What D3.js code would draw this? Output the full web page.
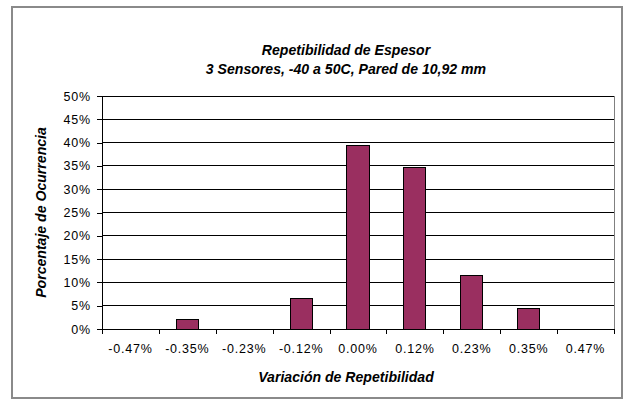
<!DOCTYPE html>
<html>
<head>
<meta charset="utf-8">
<script src="https://cdn.jsdelivr.net/npm/d3@7"></script>
<style>
  body { margin: 0; background: #fff; }
  svg { display: block; font-family: "Liberation Sans", Arial, sans-serif; }
  .tick text { font-size: 12.5px; fill: #000; letter-spacing: 0.8px; }
  .title, .x-label, .y-label { font-size: 15.5px; font-weight: bold; font-style: italic; }
</style>
</head>
<body>
<svg width="631" height="406"></svg>
<script>
// histogram values
const categories = ["-0.47%", "-0.35%", "-0.23%", "-0.12%", "0.00%", "0.12%", "0.23%", "0.35%", "0.47%"];
const percents = [0, 2.0, 0, 6.6, 39.4, 34.6, 11.4, 4.5, 0];
const yTicks = [0, 5, 10, 15, 20, 25, 30, 35, 40, 45, 50];

const margin = { top: 96, bottom: 77, right: 17, left: 102 },
    width = 631 - margin.left - margin.right,
    height = 406 - margin.top - margin.bottom;

const root = d3.select("svg");

// outer chart frame
root.append("rect")
    .attr("x", 12).attr("y", 7)
    .attr("width", 610).attr("height", 391)
    .attr("fill", "#fff")
    .attr("stroke", "#8a8a8a")
    .attr("stroke-width", 2);

const svg = root.append("g")
    .attr("transform", "translate(" + margin.left + "," + margin.top + ")");

let x = d3.scaleBand().domain(categories).range([0, width]).paddingInner(0.61).paddingOuter(0.305);
let xEdge = d3.scaleLinear().domain([0, categories.length]).range([0, width]);
let y = d3.scaleLinear().domain([0, 50]).range([height, 0]);

// gridlines
svg.selectAll(".grid")
    .data(yTicks.filter(d => d > 0))
    .enter()
    .append("line")
    .attr("x1", 0).attr("x2", width)
    .attr("y1", d => y(d)).attr("y2", d => y(d))
    .attr("stroke", "#000")
    .attr("stroke-width", 1)
    .attr("shape-rendering", "crispEdges");

// plot area right border
svg.append("line")
    .attr("x1", width).attr("x2", width)
    .attr("y1", 0).attr("y2", height)
    .attr("stroke", "#808080")
    .attr("shape-rendering", "crispEdges");

// bars
svg.selectAll(".bar")
    .data(percents)
    .enter()
    .append("rect")
    .attr("class", "bar")
    .attr("x", (d, i) => x(categories[i]))
    .attr("width", x.bandwidth())
    .attr("y", d => y(d))
    .attr("height", d => height - y(d))
    .attr("fill", "#9a2f60")
    .attr("stroke", "#000")
    .attr("stroke-width", d => d > 0 ? 1 : 0)
    .attr("shape-rendering", "crispEdges");

// axes
const yAxis = svg.append("g")
    .call(d3.axisLeft(y).tickValues(yTicks).tickSize(5).tickPadding(6)
        .tickFormat(d => d + "%"));

const xAxis = svg.append("g")
    .attr("transform", "translate(0," + height + ")")
    .call(d3.axisBottom(xEdge).tickValues(d3.range(categories.length + 1)).tickSize(5)
        .tickFormat(""));

xAxis.append("g").selectAll("text")
    .data(categories)
    .enter()
    .append("text")
    .attr("x", d => x(d) + x.bandwidth() / 2)
    .attr("y", 24)
    .attr("text-anchor", "middle")
    .attr("font-size", "12.5px")
    .attr("letter-spacing", "0.8px")
    .attr("fill", "#000")
    .text(d => d);

[yAxis, xAxis].forEach(a => {
    a.selectAll("path, line").attr("stroke", "#000").attr("shape-rendering", "crispEdges");
    a.select(".domain").attr("d", a === yAxis ? "M0,0V" + height : "M0,0H" + width);
});

// titles (narrow look: squeeze horizontally)
const narrow = " scale(0.91,1)";

svg.append("text")
    .attr("class", "title")
    .attr("text-anchor", "middle")
    .attr("transform", "translate(" + (width / 2 - 12) + "," + (-41) + ")" + narrow)
    .text("Repetibilidad de Espesor");

svg.append("text")
    .attr("class", "title")
    .attr("text-anchor", "middle")
    .attr("transform", "translate(" + (width / 2 - 12) + "," + (-22) + ")" + narrow)
    .text("3 Sensores, -40 a 50C, Pared de 10,92 mm");

svg.append("text")
    .attr("class", "x-label")
    .attr("text-anchor", "middle")
    .attr("transform", "translate(" + (width / 2 - 12) + "," + (height + 53) + ")" + narrow)
    .text("Variación de Repetibilidad");

svg.append("text")
    .attr("class", "y-label")
    .attr("text-anchor", "middle")
    .attr("transform", "translate(-56," + (height / 2) + ") rotate(-90)" + narrow)
    .text("Porcentaje de Ocurrencia");
</script>
</body>
</html>
